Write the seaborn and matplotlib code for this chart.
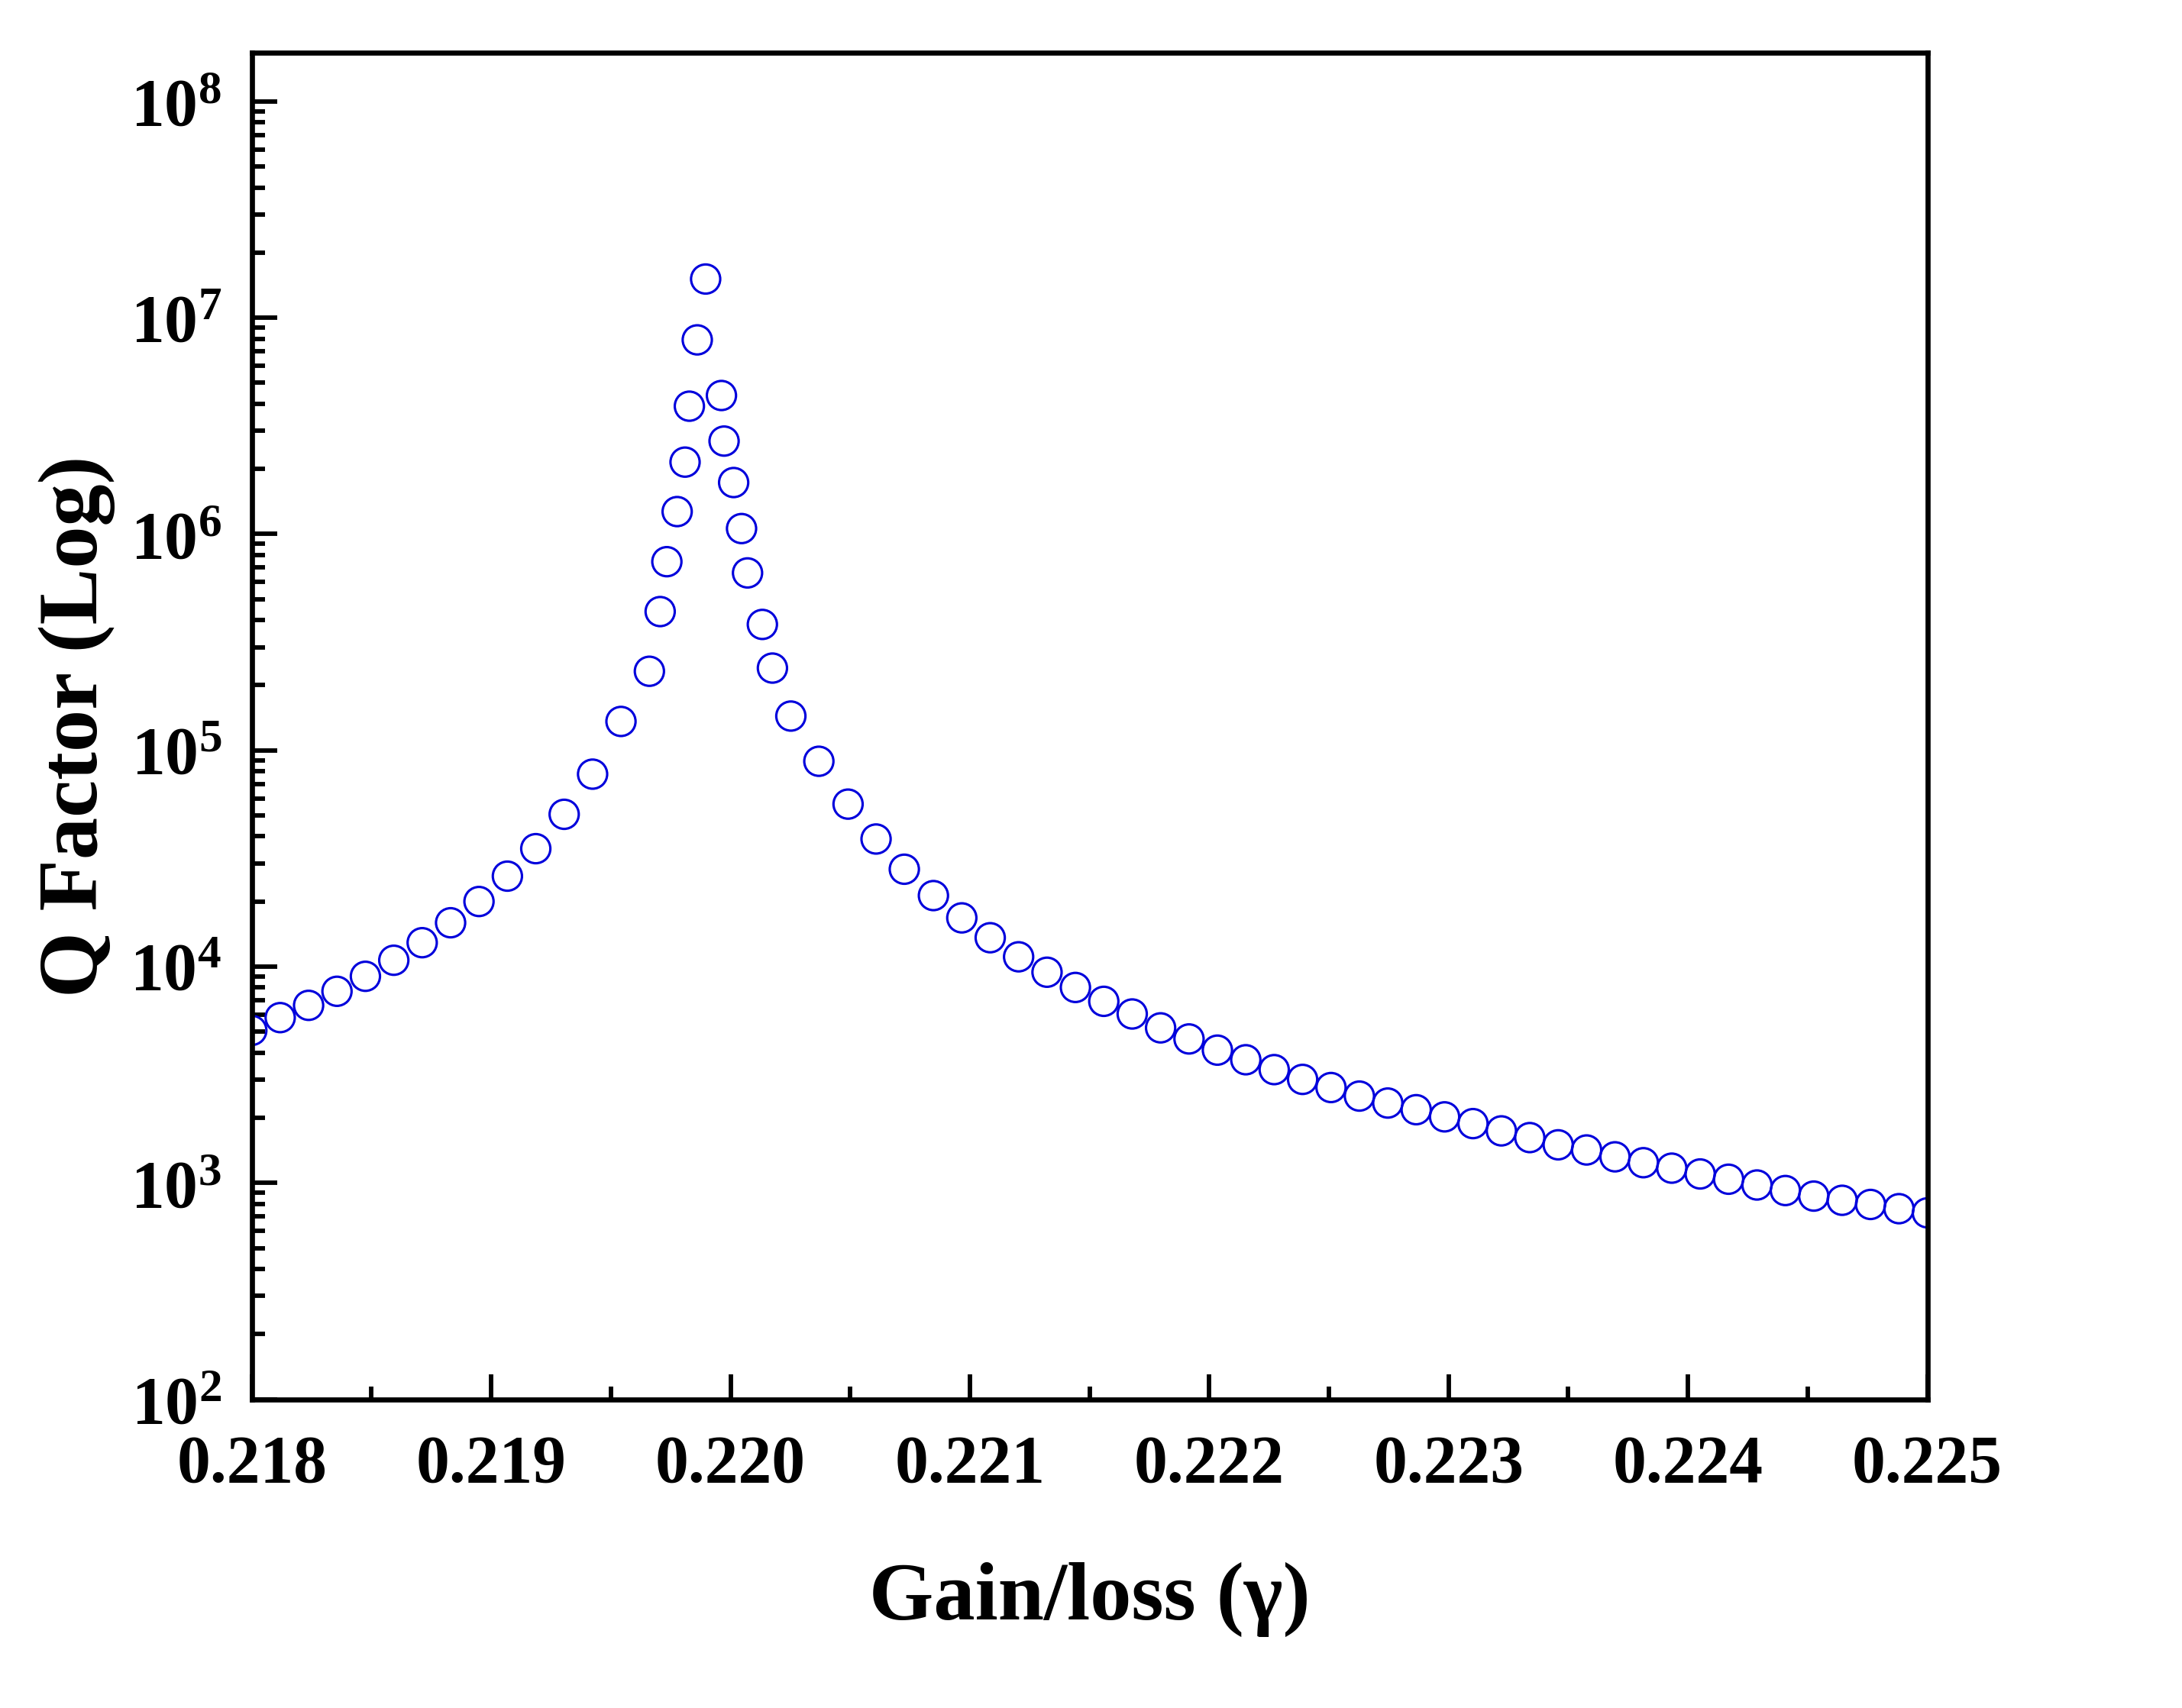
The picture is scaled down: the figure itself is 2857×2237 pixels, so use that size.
import numpy as np
import pandas as pd
import matplotlib
matplotlib.use("Agg")
import matplotlib.pyplot as plt
import matplotlib.ticker as mticker
import seaborn as sns

# ---- data ----
gamma_left = [0.218, 0.2181186, 0.2182373, 0.2183559, 0.2184746, 0.2185932, 0.2187118,
              0.2188305, 0.2189491, 0.2190678, 0.2191864, 0.219305, 0.2194237, 0.2195423,
              0.219661]
q_left = [5070, 5810, 6620, 7690, 9020, 10700, 12900, 15950, 20000, 26200, 35100,
          50600, 77600, 136000, 232000]

gamma_peak = [0.219706, 0.219734, 0.219777, 0.219810, 0.219828, 0.219861, 0.219896,
              0.219962, 0.219973, 0.220013, 0.220046, 0.220071, 0.220133, 0.220175,
              0.220252, 0.220369, 0.220491, 0.220608, 0.220726]
q_peak = [438000, 745000, 1.27e6, 2.15e6, 3.9e6, 7.9e6, 1.51e7,
          4.37e6, 2.69e6, 1.73e6, 1.06e6, 6.61e5, 3.82e5, 2.40e5,
          1.44e5, 8.9e4, 5.64e4, 3.89e4, 2.82e4]

gamma_right = [0.2208476, 0.2209662, 0.2210849, 0.2212035, 0.2213222, 0.2214408,
               0.2215594, 0.2216781, 0.2217967, 0.2219154, 0.222034, 0.2221526,
               0.2222713, 0.2223899, 0.2225086, 0.2226272, 0.2227458, 0.2228645,
               0.2229831, 0.2231018, 0.2232204, 0.223339, 0.2234577, 0.2235763,
               0.223695, 0.2238136, 0.2239322, 0.2240509, 0.2241695, 0.2242882,
               0.2244068, 0.2245254, 0.2246441, 0.2247627, 0.2248814, 0.225]
q_right = [21300, 16800, 13600, 11100, 9420, 8010, 6910, 6040, 5210, 4630,
           4110, 3710, 3340, 3010, 2760, 2520, 2340, 2180, 2020, 1880,
           1740, 1620, 1500, 1420, 1320, 1240, 1170, 1100, 1040, 978,
           922, 869, 831, 795, 760, 727]

x_ticks = [0.218, 0.219, 0.220, 0.221, 0.222, 0.223, 0.224, 0.225]
y_exponents = [2, 3, 4, 5, 6, 7, 8]

x_label = "Gain/loss (\u03b3)"
y_label = "Q Factor (Log)"

df = pd.DataFrame({
    "gamma": gamma_left + gamma_peak + gamma_right,
    "Q": q_left + q_peak + q_right,
})

# ---- style ----
sns.set_style("white")
plt.rcParams["font.family"] = ["Liberation Serif", "DejaVu Serif"]
plt.rcParams["font.weight"] = "bold"
plt.rcParams["text.color"] = "black"
plt.rcParams["axes.labelcolor"] = "black"
plt.rcParams["xtick.color"] = "black"
plt.rcParams["ytick.color"] = "black"
plt.rcParams["xtick.bottom"] = True
plt.rcParams["ytick.left"] = True
plt.rcParams["mathtext.fontset"] = "custom"
plt.rcParams["mathtext.rm"] = "Liberation Serif:bold"
plt.rcParams["mathtext.bf"] = "Liberation Serif:bold"
plt.rcParams["mathtext.it"] = "Liberation Serif:bold"

fig = plt.figure(figsize=(2857 / 300, 2237 / 300), dpi=300)
ax = fig.add_axes([0.1154, 0.1808, 0.7679, 0.7883])

blue = "#0000DC"
sns.scatterplot(data=df, x="gamma", y="Q", ax=ax, marker="o", s=84,
                facecolors="none", edgecolors=blue, linewidth=0.75, legend=False)

ax.set_yscale("log")
ax.set_xlim(0.218, 0.225)
ax.set_ylim(1e2, 10 ** 8.225)

ax.set_xticks(x_ticks)
ax.set_xticklabels([f"{v:.3f}" for v in x_ticks])
ax.xaxis.set_minor_locator(mticker.MultipleLocator(0.0005))

ax.set_yticks([10.0 ** e for e in y_exponents])
ax.set_yticklabels([r"$\mathbf{10^{%d}}$" % e for e in y_exponents])
ax.yaxis.set_minor_locator(mticker.LogLocator(base=10, subs=np.arange(2, 10), numticks=20))
ax.yaxis.set_minor_formatter(mticker.NullFormatter())

for side in ["left", "right", "top", "bottom"]:
    ax.spines[side].set_visible(True)
    ax.spines[side].set_linewidth(1.6)
    ax.spines[side].set_color("black")

ax.tick_params(axis="both", which="both", bottom=True, left=True, top=False, right=False)
ax.tick_params(axis="both", which="major", direction="in", length=8, width=1.4,
               color="black", labelcolor="black", labelsize=21)
ax.tick_params(axis="both", which="minor", direction="in", length=4, width=1.4,
               color="black")
ax.tick_params(axis="x", which="major", pad=11)
ax.tick_params(axis="y", which="major", pad=9.5)
for lbl in ax.get_xticklabels() + ax.get_yticklabels():
    lbl.set_fontweight("bold")

ax.set_xlabel(x_label, fontsize=26, fontweight="bold", va="center", color="black")
ax.set_ylabel(y_label, fontsize=26.5, fontweight="bold", va="center", color="black")
ax.xaxis.set_label_coords(0.5, -0.149)
ax.yaxis.set_label_coords(-0.1046, 0.5)

ax.grid(False)
fig.savefig("out.png", dpi=300, facecolor="white")
